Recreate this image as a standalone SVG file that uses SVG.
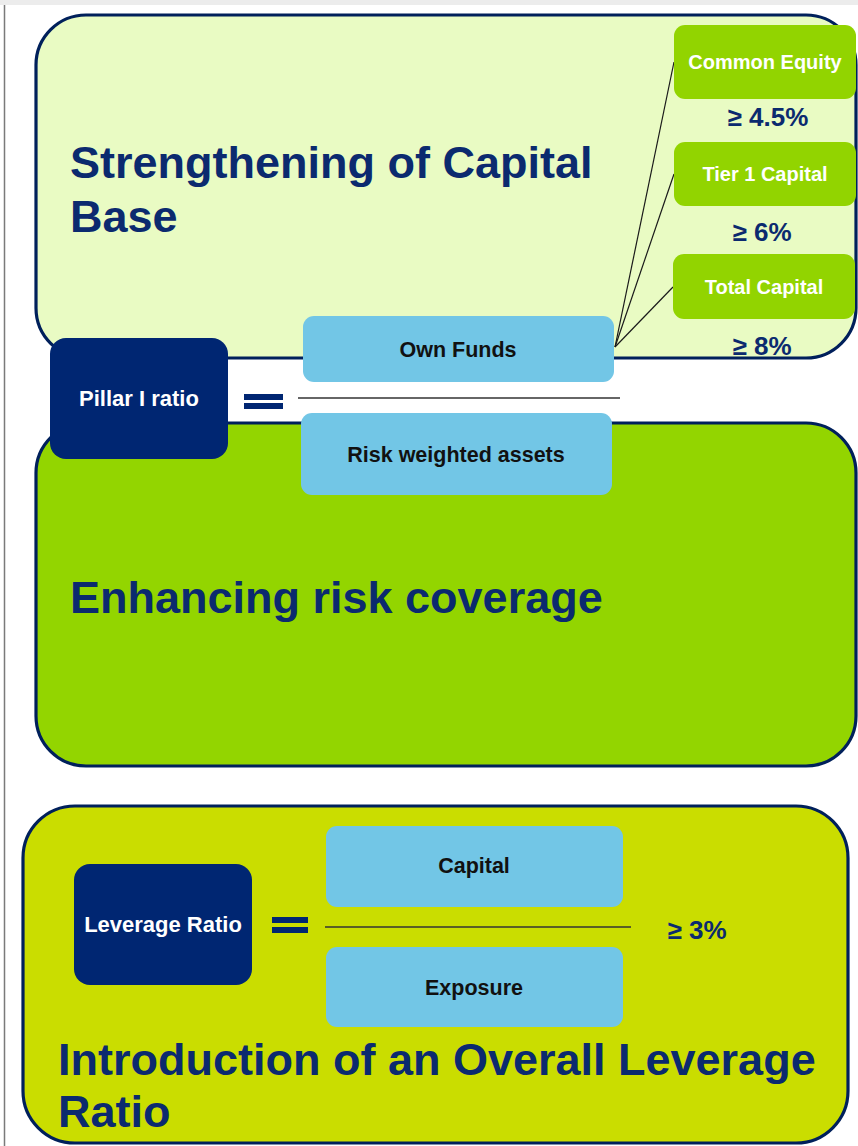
<svg xmlns="http://www.w3.org/2000/svg" width="858" height="1146" viewBox="0 0 858 1146">
  <defs>
    <style>
      .panel { stroke: #00205b; stroke-width: 3.2; }
      .navy { fill: #002672; }
      .blue { fill: #72c6e6; }
      .lime { fill: #92d400; }
      .title { font-family: "Liberation Sans", Arial, sans-serif; font-weight: bold; font-size: 45px; fill: #0b2a6f; }
      .lbl-w { font-family: "Liberation Sans", Arial, sans-serif; font-weight: bold; fill: #ffffff; text-anchor: middle; }
      .lbl-k { font-family: "Liberation Sans", Arial, sans-serif; font-weight: bold; font-size: 21.5px; fill: #111111; text-anchor: middle; }
      .pct { font-family: "Liberation Sans", Arial, sans-serif; font-weight: bold; font-size: 26px; fill: #0b2a6f; text-anchor: middle; }
      .link { stroke: #1a1a1a; stroke-width: 1.2; fill: none; }
      .bar { stroke: #333333; stroke-width: 1.6; }
    </style>
  </defs>

  <!-- page frame -->
  <rect x="0" y="0" width="858" height="1146" fill="#ffffff"/>
  <rect x="0" y="0" width="858" height="5" fill="#ececec"/>
  <line x1="4.5" y1="5" x2="4.5" y2="1146" stroke="#7a7a7a" stroke-width="1.5"/>

  <!-- panel: capital base -->
  <g id="panel-capital">
    <rect class="panel" x="36" y="15" width="820" height="343" rx="50" fill="#e9fbc3"/>
    <text class="title" x="70" y="178">Strengthening of Capital</text>
    <text class="title" x="70" y="232">Base</text>
  </g>

  <!-- panel: risk coverage -->
  <g id="panel-risk">
    <rect class="panel" x="36" y="423" width="820" height="343" rx="50" fill="#93d500"/>
    <text class="title" x="70" y="613">Enhancing risk coverage</text>
  </g>

  <!-- panel: leverage -->
  <g id="panel-leverage">
    <rect class="panel" x="23" y="806" width="825" height="337" rx="52" fill="#cadd00"/>
    <text class="title" x="58" y="1075">Introduction of an Overall Leverage</text>
    <text class="title" x="58" y="1127">Ratio</text>
  </g>

  <!-- connectors from own funds to capital tiers -->
  <g id="connectors">
    <line class="link" x1="615" y1="347" x2="674" y2="62"/>
    <line class="link" x1="615" y1="347" x2="674" y2="174"/>
    <line class="link" x1="615" y1="347" x2="673" y2="287"/>
    <line class="bar" x1="298" y1="398" x2="620" y2="398"/>
    <line class="bar" x1="325" y1="927" x2="631" y2="927" stroke="#111111"/>
  </g>

  <!-- capital tiers -->
  <g id="common-equity">
    <rect class="lime" x="674" y="25" width="182" height="74" rx="11"/>
    <text class="lbl-w" x="765" y="69" font-size="20">Common Equity</text>
    <text class="pct" x="768" y="126">≥ 4.5%</text>
  </g>
  <g id="tier1-capital">
    <rect class="lime" x="674" y="142" width="182" height="64" rx="11"/>
    <text class="lbl-w" x="765" y="181" font-size="20">Tier 1 Capital</text>
    <text class="pct" x="762" y="241">≥ 6%</text>
  </g>
  <g id="total-capital">
    <rect class="lime" x="673" y="254" width="182" height="65" rx="11"/>
    <text class="lbl-w" x="764" y="294" font-size="20">Total Capital</text>
    <text class="pct" x="762" y="355">≥ 8%</text>
  </g>

  <!-- pillar I ratio -->
  <g id="pillar-ratio">
    <rect class="navy" x="50" y="338" width="178" height="121" rx="16"/>
    <text class="lbl-w" x="139" y="406" font-size="22">Pillar I ratio</text>
    <rect class="navy" x="244" y="394" width="39" height="6"/>
    <rect class="navy" x="244" y="403" width="39" height="6"/>
  </g>
  <g id="own-funds">
    <rect class="blue" x="303" y="316" width="311" height="66" rx="11"/>
    <text class="lbl-k" x="458" y="357">Own Funds</text>
  </g>
  <g id="rwa">
    <rect class="blue" x="301" y="413" width="311" height="82" rx="11"/>
    <text class="lbl-k" x="456" y="462">Risk weighted assets</text>
  </g>

  <!-- leverage ratio -->
  <g id="leverage-ratio">
    <rect class="navy" x="74" y="864" width="178" height="121" rx="16"/>
    <text class="lbl-w" x="163" y="932" font-size="22">Leverage Ratio</text>
    <rect class="navy" x="272" y="917" width="36" height="6"/>
    <rect class="navy" x="272" y="927" width="36" height="6"/>
  </g>
  <g id="capital">
    <rect class="blue" x="326" y="826" width="297" height="81" rx="11"/>
    <text class="lbl-k" x="474" y="873">Capital</text>
  </g>
  <g id="exposure">
    <rect class="blue" x="326" y="947" width="297" height="80" rx="11"/>
    <text class="lbl-k" x="474" y="995">Exposure</text>
  </g>
  <text class="pct" x="697" y="939">≥ 3%</text>
</svg>
